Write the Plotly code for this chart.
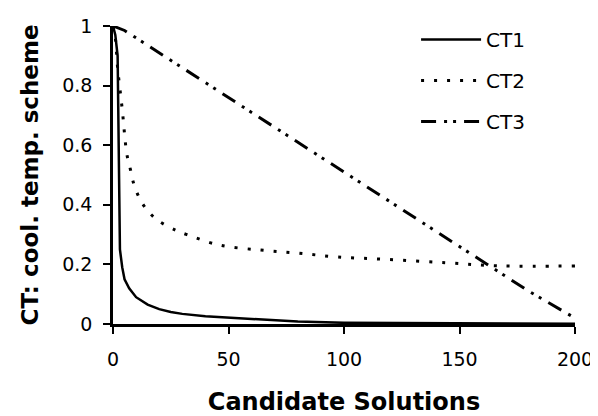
import plotly.graph_objects as go

# Data
ct1_x = [0, 1, 2, 2.5, 3, 4, 5, 7, 10, 15, 20, 25, 30, 40, 50, 60, 70, 80, 100, 150, 200]
ct1_y = [1.0, 0.97, 0.9, 0.6, 0.25, 0.19, 0.15, 0.12, 0.09, 0.065, 0.05, 0.04, 0.034, 0.026, 0.021, 0.017, 0.012, 0.008, 0.004, 0.002, 0.001]

ct2_x = [0, 1, 2, 4, 6, 7.5, 9, 11, 14, 19, 27, 32, 46, 64, 80, 97, 118, 145, 168, 200]
ct2_y = [1.0, 0.96, 0.86, 0.72, 0.57, 0.52, 0.47, 0.43, 0.39, 0.35, 0.315, 0.30, 0.265, 0.248, 0.238, 0.225, 0.217, 0.205, 0.195, 0.195]

ct3_x = [0, 5, 10, 20, 40, 60, 80, 100, 120, 140, 160, 180, 200]
ct3_y = [1.0, 0.985, 0.96, 0.91, 0.81, 0.71, 0.61, 0.51, 0.41, 0.31, 0.21, 0.11, 0.02]

x_ticks = [0, 50, 100, 150, 200]
y_ticks = [0, 0.2, 0.4, 0.6, 0.8, 1]
y_tick_text = ["0", "0.2", "0.4", "0.6", "0.8", "1"]

FONT = "DejaVu Sans, Verdana, sans-serif"

fig = go.Figure()
fig.add_trace(go.Scatter(x=ct1_x, y=ct1_y, mode="lines", name="CT1", legendgroup="a",
                         line=dict(color="black", width=2.5, dash="solid")))
fig.add_trace(go.Scatter(x=ct2_x, y=ct2_y, mode="lines", name="CT2", legendgroup="b",
                         line=dict(color="black", width=3, dash="3px,10px"), line_shape="spline"))
fig.add_trace(go.Scatter(x=ct3_x, y=ct3_y, mode="lines", name="CT3", legendgroup="c",
                         line=dict(color="black", width=3, dash="15px,8px,3px,6px,3px,8px")))

tick_font = dict(family=FONT, size=19, color="black")
x_title_font = dict(family=FONT, size=24, color="black")
y_title_font = dict(family=FONT, size=23, color="black")

# page body adds an 8px offset, so the figure is sized/margined to compensate
fig.update_layout(
    width=590, height=408,
    margin=dict(l=105, r=23, t=16, b=92),
    paper_bgcolor="white", plot_bgcolor="white",
    font=dict(family=FONT, size=19, color="black"),
    showlegend=True,
    legend=dict(x=0.656, y=1.02, xanchor="left", yanchor="top",
                bgcolor="rgba(0,0,0,0)", font=dict(size=20, family=FONT, color="black"),
                tracegroupgap=12, itemwidth=60),
    xaxis=dict(range=[0, 200], tickvals=x_ticks, showline=True, linecolor="black", linewidth=2.5,
               ticks="outside", ticklen=7, tickwidth=2, tickcolor="black", showgrid=False, zeroline=False,
               tickfont=tick_font, ticklabelstandoff=9, automargin=False,
               title=dict(text="<b>Candidate Solutions</b>", font=x_title_font, standoff=26)),
    yaxis=dict(range=[0, 1], tickvals=y_ticks, ticktext=y_tick_text, showline=True, linecolor="black", linewidth=2.5,
               ticks="outside", ticklen=7, tickwidth=2, tickcolor="black", showgrid=False, zeroline=False,
               tickfont=tick_font, ticklabelstandoff=7, automargin=False,
               title=dict(text="<b>CT: cool. temp. scheme</b>", font=y_title_font, standoff=18)),
)

fig.write_html("out.html")
